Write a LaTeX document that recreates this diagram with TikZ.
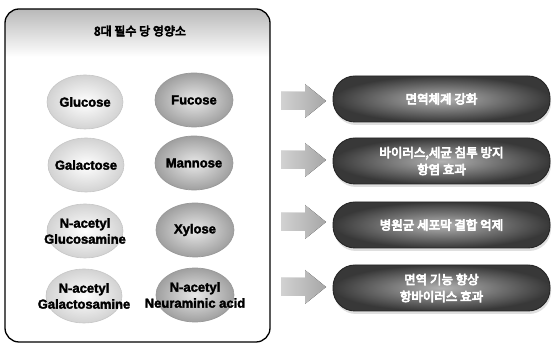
\documentclass[tikz,border=0pt]{standalone}
\usepackage{fontspec}
\setmainfont{Liberation Sans}
\newfontfamily\krb{Noto Sans CJK KR}
\usetikzlibrary{shapes.geometric,shadows}
\newcommand\heavy[2]{\special{pdf:literal direct 2 Tr #1 w}#2\special{pdf:literal direct 0 Tr 0.4 w}}
\tikzset{
  lsugar/.style={ellipse, draw=gray!45, line width=0.6pt, inner color=white, outer color=gray!35,
    minimum width=76pt, minimum height=54pt},
  rsugar/.style={ellipse, draw=gray!80, line width=0.7pt, inner color=gray!18, outer color=gray!75,
    minimum width=78pt, minimum height=54pt},
  sugartxt/.style={font=\bfseries\fontsize{13}{16}\selectfont, align=center, text=black, inner sep=0pt},
  pill/.style={rectangle, rounded corners=22pt, minimum width=217pt, minimum height=46pt,
    draw=black!85, line width=0.9pt, inner color=gray!60, outer color=black!78,
    drop shadow={opacity=0.25, shadow xshift=1pt, shadow yshift=-3pt},
    font=\krb\fontsize{12.5}{17}\selectfont, text=white, align=center},
  arrowfill/.style={left color=gray!35, right color=gray!70, draw=none}
}
\newcommand\blockarrow[2]{%
  \coordinate (#1) at (281,#2);
  \fill[arrowfill] ([yshift=-9pt]#1) -- ++(24,0) -- ++(0,-8) -- ++(21,17) -- ++(-21,17) -- ++(0,-8) -- ++(-24,0) -- cycle;}
\begin{document}
\begin{tikzpicture}[x=1pt,y=1pt]
\useasboundingbox (0,0) rectangle (559,347);
% panel
\begin{scope}
\clip[rounded corners=14pt] (5,5) rectangle (270,338);
\fill[top color=gray!55, bottom color=white] (5,290) rectangle (270,338);
\end{scope}
\draw[rounded corners=14pt, line width=1.3pt] (5,5) rectangle (270,338);
\node[font=\krb\fontsize{12}{14}\selectfont] (title) at (140,316) {\heavy{0.6}{8대 필수 당 영양소}};
% left sugars
\node[lsugar] (glc) at (85,245) {};
\node[sugartxt] (glct) at (glc) {\heavy{0.3}{Glucose}};
\node[lsugar] (gal) at (86,182) {};
\node[sugartxt] (galt) at (gal) {\heavy{0.3}{Galactose}};
\node[lsugar] (glcn) at (85,116) {};
\node[sugartxt] (glcnt) at (glcn) {\heavy{0.3}{N-acetyl}\\\heavy{0.3}{Glucosamine}};
\node[lsugar] (galn) at (84,51) {};
\node[sugartxt] (galnt) at (galn) {\heavy{0.3}{N-acetyl}\\\heavy{0.3}{Galactosamine}};
% right sugars
\node[rsugar] (fuc) at (194,247) {};
\node[sugartxt] (fuct) at (fuc) {\heavy{0.3}{Fucose}};
\node[rsugar] (man) at (194,184) {};
\node[sugartxt] (mant) at (man) {\heavy{0.3}{Mannose}};
\node[rsugar] (xyl) at (195,117) {};
\node[sugartxt] (xylt) at (xyl) {\heavy{0.3}{Xylose}};
\node[rsugar] (neu) at (195,52) {};
\node[sugartxt] (neut) at (neu) {\heavy{0.3}{N-acetyl}\\\heavy{0.3}{Neuraminic acid}};
% arrows
\blockarrow{a1}{246}
\blockarrow{a2}{187}
\blockarrow{a3}{125}
\blockarrow{a4}{60}
% pills
\node[pill] (p1) at (441.5,248) {\heavy{0.7}{면역체계 강화}};
\node[pill] (p2) at (441.5,186) {\heavy{0.7}{바이러스,세균 침투 방지}\\\heavy{0.7}{항염 효과}};
\node[pill] (p3) at (441.5,122) {\heavy{0.7}{병원균 세포막 결합 억제}};
\node[pill] (p4) at (441.5,59) {\heavy{0.7}{면역 기능 향상}\\\heavy{0.7}{항바이러스 효과}};
\end{tikzpicture}
\end{document}
